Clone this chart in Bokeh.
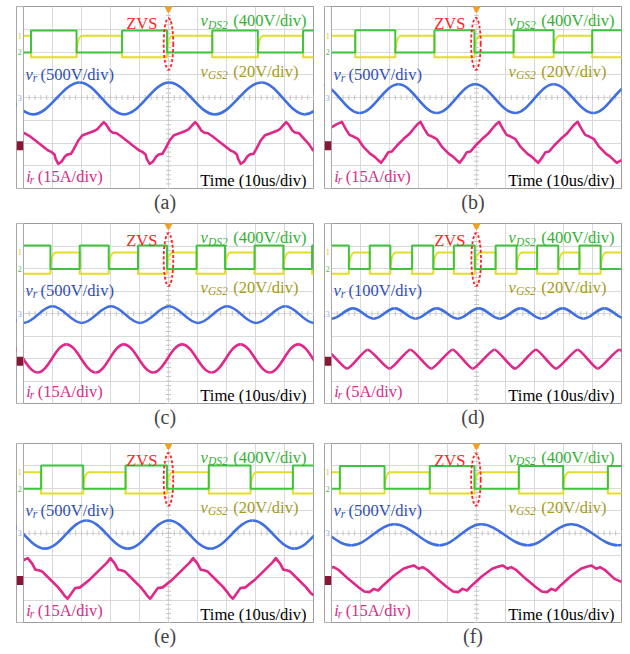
import numpy as np
from bokeh.plotting import figure
from bokeh.models import Range1d, FixedTicker, Grid, Label, BoxAnnotation, Span
from bokeh.layouts import column, row
from bokeh.embed import file_html
from bokeh.resources import INLINE

# ---------------------------------------------------------------- channel setup
CAPTIONS = ["(a)", "(b)", "(c)", "(d)", "(e)", "(f)"]
VDS_PER_DIV = 400          # v_DS2, V/div
VGS_PER_DIV = 20           # v_GS2, V/div
VR_PER_DIV = [500, 500, 500, 100, 500, 500]   # v_r, V/div
IR_PER_DIV = [15, 15, 15, 5, 15, 15]          # i_r, A/div

# v_DS2 switching instants (us) and blocking voltage (V)
VDS_RISE_A = [-47.4, -16.0, 15.1, 46.4]
VDS_FALL_A = [-31.7, -0.5, 30.8]
VDS_RISE_B = [-41.8, -14.5, 12.8, 39.9]
VDS_FALL_B = [-28.0, -0.7, 26.6]
VDS_RISE_C = [-30.6, -10.5, 9.7, 29.7, 49.5]
VDS_FALL_C = [-40.7, -20.6, -0.5, 19.5, 39.6]
VDS_RISE_D = [-36.8, -22.2, -7.8, 6.6, 20.9, 35.5]
VDS_FALL_D = [-44.0, -29.7, -14.9, -0.6, 13.8, 28.2, 42.8]
VDS_RISE_E = [-43.9, -14.8, 13.9, 42.9]
VDS_FALL_E = [-29.4, -0.5, 28.3]
VDS_RISE_F = [-47.1, -16.1, 14.6, 45.3]
VDS_FALL_F = [-31.7, -0.7, 29.9]
VDS_ON = [385, 390, 415, 415, 415, 405]
VGS_ON = 18.8              # gate drive amplitude (V)

# v_r turning points: time (us) and voltage (V)
VR_T_A = [-62.2, -46.7, -30.6, -15.3, 0.2, 16.0, 32.1, 47.0, 62.6]
VR_V_A = [330, -370, 330, -370, 330, -370, 330, -370, 330]
VR_T_B = [-53.7, -40.3, -26.9, -13.7, -0.5, 13.3, 26.6, 40.3, 53.6]
VR_V_B = [290, -340, 290, -340, 290, -340, 290, -340, 290]
VR_T_C = [-60.0, -50.0, -40.0, -29.9, -19.8, -9.8, 0.2, 10.2, 20.2, 30.2, 40.3, 50.2]
VR_V_C = [160, -210, 160, -210, 160, -210, 160, -210, 160, -210, 160, -210]
VR_T_D = [-57.1, -49.9, -42.6, -35.4, -28.2, -21.0, -13.7, -6.5, 0.8, 8.0,
          15.2, 22.4, 29.7, 36.9, 44.1, 51.3]
VR_V_D = [23, -23, 23, -23, 23, -23, 23, -23, 23, -23, 23, -23, 23, -23, 23, -23]
VR_T_E = [-57.0, -42.6, -28.3, -14.0, 0.2, 14.4, 29.0, 43.4, 57.7]
VR_V_E = [280, -350, 280, -350, 280, -350, 280, -350, 280]
VR_T_F = [-58.5, -43.2, -28.3, -12.8, 1.6, 17.7, 32.6, 48.7, 63.0]
VR_V_F = [195, -275, 195, -275, 195, -275, 195, -275, 195]

# i_r samples: time (us) and current (A)
IR_T_A = [-50.0, -48.0, -45.9, -43.6, -41.5, -40.4, -39.3, -38.9, -38.0,
          -36.9, -35.7, -34.9, -33.6, -32.6, -31.1, -29.6, -27.7, -25.7, -24.5, -23.4, -22.3,
          -21.4, -20.2, -19.3, -17.9, -16.6, -14.5, -12.2, -10.1, -9.0, -7.9, -7.5, -6.5,
          -5.4, -4.2, -3.4, -2.1, -1.1, 0.4, 1.9, 3.8, 5.8, 7.0, 8.1, 9.2,
          10.1, 11.3, 12.2, 13.6, 14.9, 17.0, 19.3, 21.4, 22.5, 23.6, 24.0, 24.9,
          26.0, 27.2, 28.0, 29.3, 30.3, 31.8, 33.3, 35.2, 37.2, 38.4, 39.5, 40.6,
          41.5, 42.7, 43.6, 45.0, 46.3, 48.4, 50.0]
IR_V_A = [7.6, 5.5, 2.4, -1.1, -4.2, -5.1, -6.8, -9.7, -13.0,
          -11.6, -8.2, -6.9, -6.4, -3.1, 2.4, 5.9, 7.2, 8.6, 9.9, 12.3, 14.5,
          12.7, 9.0, 7.7, 7.2, 5.5, 2.4, -1.1, -4.2, -5.1, -6.8, -9.7, -13.0,
          -11.6, -8.2, -6.9, -6.4, -3.1, 2.4, 5.9, 7.2, 8.6, 9.9, 12.3, 14.5,
          12.7, 9.0, 7.7, 7.2, 5.5, 2.4, -1.1, -4.2, -5.1, -6.8, -9.7, -13.0,
          -11.6, -8.2, -6.9, -6.4, -3.1, 2.4, 5.9, 7.2, 8.6, 9.9, 12.3, 14.5,
          12.7, 9.0, 7.7, 7.2, 4.5, 0.0, -4.5]
IR_T_B = [-50.0, -48.3, -46.4,
          -45.1, -43.8, -42.4, -40.9, -38.9, -36.6, -35.2, -34.0, -32.9,
          -31.6, -30.4, -29.2, -27.4, -25.1, -23.1, -21.4, -20.4, -19.3,
          -18.0, -16.7, -15.3, -13.8, -11.8, -9.5, -8.1, -6.9, -5.8,
          -4.5, -3.3, -2.1, -0.3, 2.0, 4.0, 5.7, 6.7, 7.8,
          9.1, 10.4, 11.8, 13.3, 15.3, 17.6, 19.0, 20.2, 21.3,
          22.6, 23.8, 25.0, 26.8, 29.1, 31.1, 32.8, 33.8, 34.9,
          36.2, 37.5, 38.9, 40.4, 42.4, 44.7, 46.1, 47.3, 48.4, 50.0]
IR_V_B = [11.0, 13.0, 14.7,
          10.1, 6.1, 5.0, 3.5, -2.0, -6.4, -8.2, -10.4, -12.3,
          -9.0, -5.3, -4.9, -0.9, 3.5, 6.8, 10.8, 13.0, 14.7,
          10.1, 6.1, 5.0, 3.5, -2.0, -6.4, -8.2, -10.4, -12.3,
          -9.0, -5.3, -4.9, -0.9, 3.5, 6.8, 10.8, 13.0, 14.7,
          10.1, 6.1, 5.0, 3.5, -2.0, -6.4, -8.2, -10.4, -12.3,
          -9.0, -5.3, -4.9, -0.9, 3.5, 6.8, 10.8, 13.0, 14.7,
          10.1, 6.1, 5.0, 3.5, -2.0, -6.4, -8.2, -10.4, -12.3, -10.5]
IR_T_C = [-55.2, -45.1, -35.2, -25.1, -15.4, -5.3, 4.7, 14.8, 24.8, 34.9, 44.7, 54.8]
IR_V_C = [10.2, -8.6, 10.2, -8.6, 10.2, -8.6, 10.2, -8.6, 10.2, -8.6, 10.2, -8.6]
IR_T_D = [-52.0, -44.6, -37.5, -30.0, -22.8, -15.6, -8.2, -1.3, 6.2, 13.3,
          20.5, 27.4, 34.9, 41.8, 49.3, 56.5]
IR_V_D = [2.2, -2.0, 2.2, -2.0, 2.2, -2.0, 2.2, -2.0, 2.2, -2.0, 2.2, -2.0, 2.2, -2.0, 2.2, -2.0]
IR_T_E = [-50.0, -48.5,
          -47.0, -45.9, -44.8, -43.5, -40.5, -38.2, -36.5, -35.7, -34.8,
          -33.2, -32.2, -30.5, -27.0, -23.5, -21.2, -20.0,
          -18.5, -17.4, -16.3, -15.0, -12.0, -9.7, -8.0, -7.2, -6.3,
          -4.7, -3.7, -2.0, 1.5, 5.0, 7.3, 8.5,
          10.0, 11.1, 12.2, 13.5, 16.5, 18.8, 20.5, 21.3, 22.2,
          23.8, 24.8, 26.5, 30.0, 33.5, 35.8, 37.0,
          38.5, 39.6, 40.7, 42.0, 45.0, 47.3, 49.0, 50.0]
IR_V_E = [12.5, 13.9,
          10.2, 6.2, 5.8, 4.9, -0.9, -5.4, -9.4, -11.6, -13.3,
          -9.0, -6.2, -5.7, -0.2, 6.5, 10.9, 13.9,
          10.2, 6.2, 5.8, 4.9, -0.9, -5.4, -9.4, -11.6, -13.3,
          -9.0, -6.2, -5.7, -0.2, 6.5, 10.9, 13.9,
          10.2, 6.2, 5.8, 4.9, -0.9, -5.4, -9.4, -11.6, -13.3,
          -9.0, -6.2, -5.7, -0.2, 6.5, 10.9, 13.9,
          10.2, 6.2, 5.8, 4.9, -0.9, -5.4, -9.4, -11.0]
IR_T_F = [-50.0, -49.2, -47.6, -44.2, -40.7, -38.7, -36.9, -35.4, -33.9, -32.2, -28.7, -25.2, -23.5, -21.6,
          -19.9, -18.6, -17.0, -13.6, -10.1, -8.1, -6.3, -4.8, -3.3, -1.6, 1.9, 5.4, 7.1, 9.0,
          10.7, 12.0, 13.6, 17.0, 20.5, 22.5, 24.3, 25.8, 27.3, 29.0, 32.5, 36.0, 37.7, 39.6,
          41.3, 42.6, 44.2, 47.6, 50.0]
IR_V_F = [7.5, 7.9, 6.1, 0.0, -5.6, -8.5, -8.9, -6.7, -7.8, -4.4, 1.8, 6.8, 7.9, 9.0,
          6.8, 7.9, 6.1, 0.0, -5.6, -8.5, -8.9, -6.7, -7.8, -4.4, 1.8, 6.8, 7.9, 9.0,
          6.8, 7.9, 6.1, 0.0, -5.6, -8.5, -8.9, -6.7, -7.8, -4.4, 1.8, 6.8, 7.9, 9.0,
          6.8, 7.9, 6.1, 0.0, -2.0]

# ---------------------------------------------------------------- screen layout
T_MIN, T_MAX = -50.0, 50.0          # 10 div x 10 us/div
STRIP = -52.4                       # left edge of channel-marker strip
VGS_POS, VDS_POS, VR_POS, IR_POS = 1.77, 1.98, 0.0, -2.05   # trace offsets (div)
MARK_1, MARK_2, MARK_3, MARK_4 = 2.72, 1.98, 0.0, -2.12
GATE_RISE = 2.0                     # us, rounded gate charging edge
TXT_UP = 0.15                       # baseline lift for annotation text (div)

SERIF = "Liberation Serif"
GREEN, YELLOW, BLUE, PINK, RED = "#3ec43e", "#e3dd2a", "#3f6fe0", "#e0288a", "#ff2424"
TXT_VDS, TXT_VGS, TXT_VR, TXT_IR = "#33b133", "#a39c1e", "#2f50b3", "#d42f86"
GRID = "#d9d9d9"

# min borders (left, right, top, bottom) for each panel
BORDERS = [(16, 2, 6, 30), (9, 9, 6, 30),
           (16, 2, 5, 33), (9, 9, 5, 33),
           (16, 2, 7, 32), (9, 9, 7, 32)]


def events(rises, falls):
    ev = sorted([(t, 1) for t in rises] + [(t, 0) for t in falls])
    return ev, 1 - ev[0][1]


def draw_vds(p, rises, falls, hi):
    ev, state = events(rises, falls)
    lo_y, hi_y = VDS_POS, VDS_POS + hi / VDS_PER_DIV
    xs, ys = [T_MIN], [hi_y if state else lo_y]
    for t, new in ev:
        xs += [t, t]
        ys += [hi_y if state else lo_y, hi_y if new else lo_y]
        state = new
    xs.append(T_MAX)
    ys.append(hi_y if state else lo_y)
    p.line(xs, ys, line_color=GREEN, line_width=2)


def draw_vgs(p, rises, falls):
    ev, green_on = events(rises, falls)
    lo_y, hi_y = VGS_POS, VGS_POS + VGS_ON / VGS_PER_DIV
    sx0, sy0, sx1, sy1 = [], [], [], []
    qx0, qy0, qx1, qy1, qcx, qcy = [], [], [], [], [], []
    t0 = T_MIN
    for t, new in ev:
        level = lo_y if green_on else hi_y
        sx0.append(t0); sy0.append(level); sx1.append(t); sy1.append(level)
        if new == 1:      # S2 turns off: gate discharges quickly
            sx0.append(t); sy0.append(hi_y); sx1.append(t); sy1.append(lo_y)
            t0 = t
        else:             # S2 turns on: gate charges with a rounded edge
            qx0.append(t); qy0.append(lo_y); qx1.append(t + GATE_RISE); qy1.append(hi_y)
            qcx.append(t + 0.1); qcy.append(hi_y)
            t0 = t + GATE_RISE
        green_on = new
    level = lo_y if green_on else hi_y
    sx0.append(t0); sy0.append(level); sx1.append(T_MAX); sy1.append(level)
    p.segment(sx0, sy0, sx1, sy1, line_color=YELLOW, line_width=2, line_cap="round")
    p.quadratic(x0=qx0, y0=qy0, x1=qx1, y1=qy1, cx=qcx, cy=qcy,
                line_color=YELLOW, line_width=2)


def smooth(p, t, v, color, k, lw):
    """Join successive turning points with flat-tangent cubic curves."""
    t = np.asarray(t, float)
    v = np.asarray(v, float)
    d = np.diff(t)
    p.bezier(x0=t[:-1], y0=v[:-1], x1=t[1:], y1=v[1:],
             cx0=t[:-1] + k * d, cy0=v[:-1], cx1=t[1:] - k * d, cy1=v[1:],
             line_color=color, line_width=lw)


def label(p, x, y, text, color, size="16.5px", style="normal", align="left",
          baseline="alphabetic", lift=TXT_UP):
    p.add_layout(Label(x=x, y=y + lift, text=text, text_color=color, text_font=SERIF,
                       text_font_size=size, text_font_style=style,
                       text_align=align, text_baseline=baseline))


def panel(i, rises, falls, vr_t, vr_v, ir_t, ir_v, ir_k):
    bl, br, bt, bb = BORDERS[i]
    p = figure(width=315, height=218, x_range=Range1d(STRIP, T_MAX), y_range=Range1d(-4, 4),
               x_axis_type=None, y_axis_type=None, output_backend="svg",
               toolbar_location=None, title=CAPTIONS[i], title_location="below",
               min_border_left=bl, min_border_right=br, min_border_top=bt,
               min_border_bottom=bb)
    p.background_fill_color = "white"
    p.border_fill_color = "white"
    p.outline_line_color = "#9c9c9c"
    p.title.align = "center"
    p.title.text_font = SERIF
    p.title.text_font_size = "20px"
    p.title.text_font_style = "normal"
    p.title.standoff = 0

    # graticule
    p.add_layout(Grid(dimension=0, ticker=FixedTicker(ticks=list(range(-50, 51, 10))),
                      grid_line_color=GRID))
    p.add_layout(Grid(dimension=1, ticker=FixedTicker(ticks=list(range(-4, 5))),
                      grid_line_color=GRID))
    p.scatter(np.arange(-50, 50.1, 2.0), 0.0, marker="dash", angle=np.pi / 2,
              size=5, line_color="#c4c4c4")
    p.scatter(0.0, np.arange(-4, 4.01, 0.2), marker="dash", size=5, line_color="#c4c4c4")

    # traces
    draw_vgs(p, rises, falls)
    draw_vds(p, rises, falls, VDS_ON[i])
    smooth(p, vr_t, VR_POS + np.asarray(vr_v) / VR_PER_DIV[i], BLUE, 0.3642, 2.6)
    ir_y = IR_POS + np.asarray(ir_v) / IR_PER_DIV[i]
    if ir_k is None:
        p.line(ir_t, ir_y, line_color=PINK, line_width=2.6, line_join="round")
    else:
        smooth(p, ir_t, ir_y, PINK, ir_k, 2.6)

    # ZVS marking around the turn-off edge of v_DS2 nearest the trigger
    t_zvs = min(falls, key=abs)
    y_top = VDS_POS + VDS_ON[i] / VDS_PER_DIV
    p.ellipse(x=[t_zvs + 0.5], y=[(y_top + VGS_POS) / 2], width=[3.3],
              height=[y_top - VGS_POS + 1.1], fill_color=None,
              line_color=RED, line_width=1.8, line_dash="3 2")
    p.scatter([0.0], [3.9], marker="inverted_triangle", size=7, color="#f0a020")

    # channel-marker strip
    p.add_layout(BoxAnnotation(left=STRIP + 0.1, right=T_MIN - 0.15, fill_color="white",
                               fill_alpha=1.0, line_color=None))
    p.add_layout(Span(location=T_MIN, dimension="height", line_color="#a8a8a8", line_width=1))
    label(p, -51.3, MARK_1, "1", "#d4cc20", size="8px", align="center", baseline="middle", lift=0)
    label(p, -51.3, MARK_2, "2", "#40c040", size="8px", align="center", baseline="middle", lift=0)
    label(p, -51.3, MARK_3, "3", "#86a6ee", size="8px", align="center", baseline="middle", lift=0)
    p.add_layout(BoxAnnotation(left=STRIP + 0.1, right=T_MIN - 0.1, bottom=MARK_4 - 0.2,
                               top=MARK_4 + 0.2, fill_color="#8c1434", fill_alpha=1.0,
                               line_color=None))

    # annotations
    label(p, -3.8, 3.1, "ZVS", RED, align="right")
    label(p, 11.0, 3.22, "v", TXT_VDS, style="italic")
    label(p, 13.6, 3.05, "DS2", TXT_VDS, size="11.5px", style="italic")
    label(p, 47.6, 3.22, f"({VDS_PER_DIV}V/div)", TXT_VDS, align="right")
    label(p, 11.0, 1.0, "v", TXT_VGS, style="italic")
    label(p, 13.6, 0.83, "GS2", TXT_VGS, size="11.5px", style="italic")
    label(p, 44.8, 1.0, f"({VGS_PER_DIV}V/div)", TXT_VGS, align="right")
    label(p, -49.3, 0.86, "v", TXT_VR, style="italic")
    label(p, -46.8, 0.72, "r", TXT_VR, size="11.5px", style="italic")
    label(p, -44.1, 0.86, f"({VR_PER_DIV[i]}V/div)", TXT_VR)
    label(p, -49.0, -3.62, "i", TXT_IR, style="italic")
    label(p, -47.8, -3.76, "r", TXT_IR, size="11.5px", style="italic")
    label(p, -45.1, -3.62, f"({IR_PER_DIV[i]}A/div)", TXT_IR)
    label(p, 47.6, -3.8, "Time (10us/div)", "black", align="right")
    return p


pa = panel(0, VDS_RISE_A, VDS_FALL_A, VR_T_A, VR_V_A, IR_T_A, IR_V_A, None)
pb = panel(1, VDS_RISE_B, VDS_FALL_B, VR_T_B, VR_V_B, IR_T_B, IR_V_B, None)
pc = panel(2, VDS_RISE_C, VDS_FALL_C, VR_T_C, VR_V_C, IR_T_C, IR_V_C, 0.3642)
pd = panel(3, VDS_RISE_D, VDS_FALL_D, VR_T_D, VR_V_D, IR_T_D, IR_V_D, 0.2)
pe = panel(4, VDS_RISE_E, VDS_FALL_E, VR_T_E, VR_V_E, IR_T_E, IR_V_E, None)
pf = panel(5, VDS_RISE_F, VDS_FALL_F, VR_T_F, VR_V_F, IR_T_F, IR_V_F, None)

layout = column(row(pa, pb), row(pc, pd), row(pe, pf))
open("out.html", "w").write(file_html(layout, INLINE))
